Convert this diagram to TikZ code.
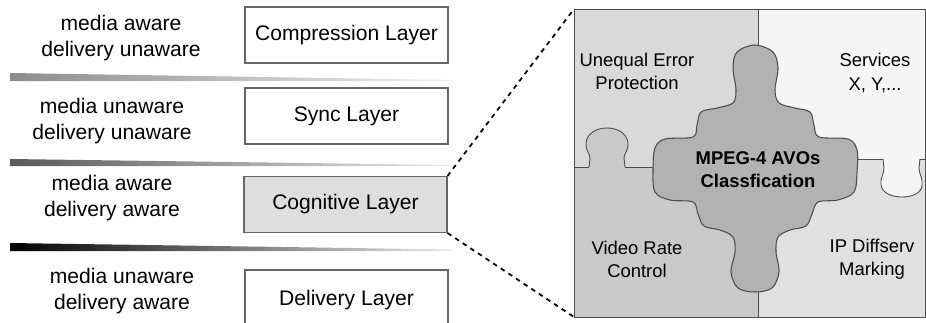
\documentclass[tikz,border=0pt]{standalone}
\usepackage{fontspec}
\setmainfont{Liberation Sans}

\begin{document}
\begin{tikzpicture}[x=0.02cm,y=-0.02cm,
    lbl/.style={align=center,font=\fontsize{12}{15.3}\selectfont},
    layer/.style={draw=black!60,line width=0.6pt,minimum width=4.06cm,minimum height=1.12cm,
      font=\fontsize{12}{15}\selectfont},
    piece/.style={draw=black!70,line width=0.5pt},
    ptxt/.style={align=center,font=\fontsize{10.5}{13.2}\selectfont},
    zoomline/.style={line width=1pt,dash pattern=on 2.6pt off 2.6pt}]
  \useasboundingbox (0,0) rectangle (926,322);
  \clip (0,0) rectangle (926,322);
  % left: the four layers
  \node[lbl] (lbl1) at (121,38) {media aware\\delivery unaware};
  \node[lbl] (lbl2) at (112,121) {media unaware\\delivery unaware};
  \node[lbl] (lbl3) at (112,198) {media aware\\delivery aware};
  \node[lbl] (lbl4) at (122,291) {media unaware\\delivery aware};
  \node[layer] (comp) at (346.5,35) {Compression Layer};
  \node[layer] (sync) at (346.5,116) {Sync Layer};
  \node[layer,fill=black!13] (cog) at (345.5,204.5) {Cognitive Layer};
  \node[layer,minimum height=1.2cm] (deliv) at (346.5,300) {Delivery Layer};
  \shade[left color=black!45,right color=black!6] (10,73) -- (453,80) -- (453,81) -- (10,81) -- cycle;
  \shade[left color=black!65,right color=black!8] (10,159) -- (453,165) -- (453,166) -- (10,166) -- cycle;
  \shade[left color=black,right color=black!8] (10,243) -- (453,249.5) -- (453,251) -- (10,251) -- cycle;
  % right: the puzzle
  \coordinate (pztl) at (574,9);
  \coordinate (pzbl) at (574,317);
  \fill[black!15] (574,9) rectangle (758,167);
  \fill[black!21] (574,167) rectangle (758,317);
  \fill[black!4] (758,9) rectangle (926,159);
  \fill[black!12] (758,159) rectangle (926,317);
  \filldraw[piece,fill=black!21] (589,167) -- (590,158) .. controls (590,153) and (585,150) .. (586,143)
    .. controls (587,133) and (597,128) .. (607,128) .. controls (617,128) and (627,133) .. (628,143)
    .. controls (629,150) and (624,153) .. (624,158) -- (625,167);
  \filldraw[piece,fill=black!4] (883,159) -- (884,168) .. controls (884,174) and (880,178) .. (881,185)
    .. controls (882,193) and (892,197) .. (902,197) .. controls (912,197) and (922,193) .. (922,185)
    .. controls (923,178) and (919,174) .. (919,168) -- (920,159);
  \draw[piece] (574,9) rectangle (925,317);
  \draw[piece] (758,9) -- (758,317);
  \draw[piece] (574,167) -- (589,167) (625,167) -- (700,167);
  \draw[piece] (800,159) -- (883,159) (920,159) -- (926,159);
  \filldraw[piece,fill=black!30,line width=0.6pt] plot[smooth cycle,tension=0.55] coordinates {
    (755,45) (773,52) (778,68) (775,90) (779,103) (795,108) (810,112) (814,125) (819,137)
    (848,139) (857,150) (857,172) (854,192) (838,200) (818,202) (812,214) (806,226)
    (790,230) (778,237) (776,252) (779,272) (772,288) (755,292) (738,288) (731,272)
    (735,252) (733,237) (720,230) (704,226) (698,214) (693,202) (670,200) (655,192)
    (653,170) (655,148) (665,139) (693,137) (697,125) (701,112) (717,108) (733,103)
    (736,90) (733,68) (737,52)};
  \node[ptxt] (uep) at (637,71) {Unequal Error\\Protection};
  \node[ptxt] (serv) at (875,73) {Services\\X, Y,...};
  \node[ptxt] (vrc) at (637,259) {Video Rate\\Control};
  \node[ptxt] (ipd) at (872,259) {IP Diffserv\\Marking};
  \node[ptxt,font=\fontsize{10.5}{13.2}\selectfont\bfseries] (avo) at (758,170) {MPEG-4 AVOs\\Classfication};
  % zoom lines
  \draw[zoomline] (cog.north east) -- (pztl);
  \draw[zoomline] (cog.south east) -- (pzbl);
\end{tikzpicture}
\end{document}
